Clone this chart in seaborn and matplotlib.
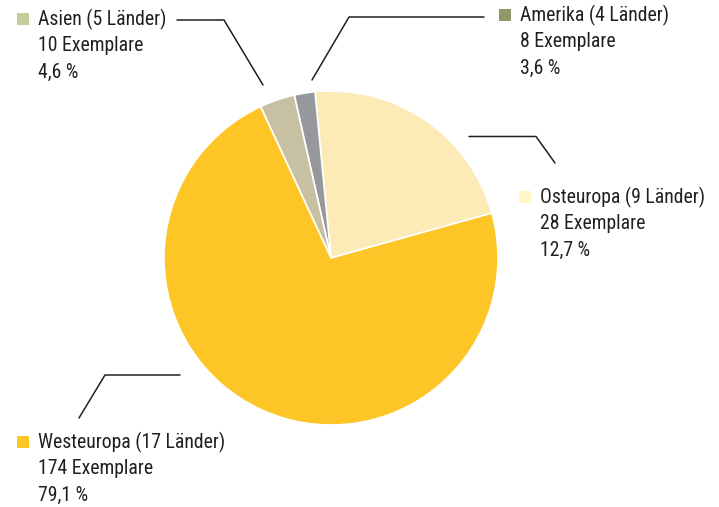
import matplotlib
matplotlib.use("Agg")
import matplotlib.pyplot as plt
import seaborn as sns

# ---- data ----
regions = ["Osteuropa", "Amerika", "Asien", "Westeuropa"]
laender = [9, 4, 5, 17]
exemplare = [28, 8, 10, 174]
prozent = ["12,7 %", "3,6 %", "4,6 %", "79,1 %"]
# wedge shares as drawn in the picture (percent of circle)
slice_share = [22.2, 2.0, 3.4, 72.4]

wedge_colors = ["#FCEBB6", "#97989B", "#C8C0A3", "#FDC526"]
legend_colors = ["#FFF6C6", "#8E9868", "#C5CC9C", "#FDC526"]

sns.set_theme(style="white")
plt.rcParams["font.family"] = ["Roboto Condensed", "Liberation Sans Narrow", "Roboto", "DejaVu Sans"]

W, H = 719, 507
fig = plt.figure(figsize=(W / 100, H / 100), dpi=100)
ax = fig.add_axes([0, 0, 1, 1])
ax.set_xlim(0, W)
ax.set_ylim(0, H)
ax.set_aspect("equal")
ax.axis("off")

ax.pie(slice_share, colors=wedge_colors, startangle=15.6, counterclock=True,
       center=(331, H - 258), radius=167,
       wedgeprops=dict(edgecolor="white", linewidth=1.2))
ax.set_xlim(0, W)
ax.set_ylim(0, H)

# label layout (pixel coords, y from top)
label_pos = {
    "Osteuropa": (519, 197),
    "Amerika": (499, 15),
    "Asien": (17, 19),
    "Westeuropa": (17, 442),
}
leaders = {
    "Osteuropa": [(469, 136.5), (536, 136.5), (555, 163)],
    "Amerika": [(484, 17), (349, 17), (312, 80)],
    "Asien": [(177, 20), (224, 20), (263, 85)],
    "Westeuropa": [(180, 375), (105, 375), (79, 418)],
}

for i, r in enumerate(regions):
    x, y = label_pos[r]
    ax.add_patch(plt.Rectangle((x, H - y - 6), 12, 12, color=legend_colors[i], lw=0))
    lines = [f"{r} ({laender[i]} Länder)", f"{exemplare[i]} Exemplare", prozent[i]]
    for j, t in enumerate(lines):
        ax.text(x + 21, H - (y + j * 26.5), t, fontsize=14.2, color="#231F20",
                va="center", ha="left")
    pts = leaders[r]
    ax.plot([p[0] for p in pts], [H - p[1] for p in pts], color="#231F20", lw=1.1)

fig.savefig("out.png", dpi=100)
